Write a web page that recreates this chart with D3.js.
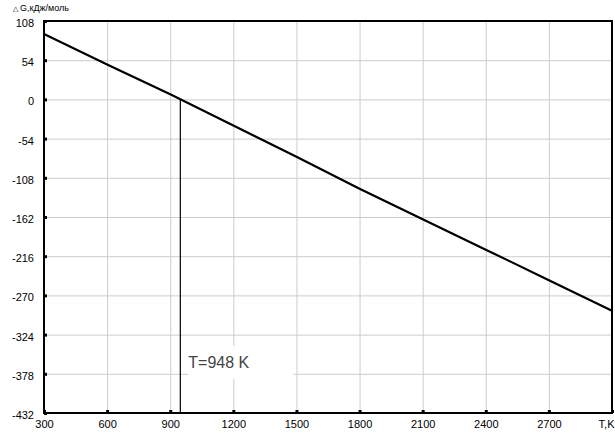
<!DOCTYPE html>
<html>
<head>
<meta charset="utf-8">
<script src="https://cdn.jsdelivr.net/npm/d3@7"></script>
<style>
  body { margin: 0; background: #fff; }
  svg { display: block; font-family: "Liberation Sans", Arial, sans-serif; }
  .grid line { stroke: #cccccc; stroke-width: 1px; }
  .grid path { display: none; }
  .axis path { display: none; }
  .axis line { stroke: #000; stroke-width: 3px; }
  .axis text { font-size: 11px; fill: #000; }
</style>
</head>
<body>
<div id="chart"></div>
<script>
// data
var temps = [300, 600, 900, 1200, 1500, 1800, 2100, 2400, 2700, 3000];
var dG = [90, 48, 7, -36, -79, -123, -165, -207, -249, -291];
var yTicks = [108, 54, 0, -54, -108, -162, -216, -270, -324, -378, -432];
var xTicks = [300, 600, 900, 1200, 1500, 1800, 2100, 2400, 2700, 3000];
var xLabels = ["300", "600", "900", "1200", "1500", "1800", "2100", "2400", "2700", "T,K"];
var tEq = 948;
var yTitle = "G,кДж/моль";

var margin = {top: 21, right: 3, bottom: 21, left: 44},
    width = 615 - margin.left - margin.right,
    height = 434 - margin.top - margin.bottom;

var x = d3.scaleLinear().domain([300, 3000]).range([0, width]),
    y = d3.scaleLinear().domain([-432, 108]).range([height, 0]);

var svg = d3.select("#chart").append("svg")
    .attr("width", 615)
    .attr("height", 434);

var g = svg.append("g")
    .attr("transform", "translate(" + margin.left + "," + margin.top + ")");

// grid
g.append("g")
    .attr("class", "grid")
    .call(d3.axisLeft(y).tickValues(yTicks).tickSize(-width).tickFormat(""));
g.append("g")
    .attr("class", "grid")
    .attr("transform", "translate(0," + height + ")")
    .call(d3.axisBottom(x).tickValues(xTicks).tickSize(-height).tickFormat(""));

// white box behind the T label (hides grid)
var lx = x(tEq) + 8;
g.append("rect")
    .attr("x", lx)
    .attr("y", y(-378) - 28)
    .attr("width", 105)
    .attr("height", 33)
    .attr("fill", "#fff");

// the curve
var line = d3.line()
    .x(function(d, i) { return x(temps[i]); })
    .y(function(d) { return y(d); });

g.append("path")
    .datum(dG)
    .attr("fill", "none")
    .attr("stroke", "#000")
    .attr("stroke-width", 2.2)
    .attr("d", line);

// vertical marker at equilibrium temperature
g.append("line")
    .attr("x1", x(tEq)).attr("x2", x(tEq))
    .attr("y1", y(0)).attr("y2", height)
    .attr("stroke", "#000")
    .attr("stroke-width", 1.2);

g.append("text")
    .attr("x", lx)
    .attr("y", y(-378) - 6)
    .attr("fill", "#444")
    .style("font-size", "16px")
    .text("T=" + tEq + " K");

// axes
var yAxis = g.append("g")
    .attr("class", "axis")
    .call(d3.axisLeft(y).tickValues(yTicks).tickSizeInner(-3).tickSizeOuter(0).tickPadding(10)
      .tickFormat(function(d) { return String(d); }));
yAxis.selectAll("text").attr("dy", "0.5em");

var xAxis = g.append("g")
    .attr("class", "axis")
    .attr("transform", "translate(0," + height + ")")
    .call(d3.axisBottom(x).tickValues(xTicks).tickSizeInner(-3).tickSizeOuter(0).tickPadding(7)
      .tickFormat(function(d, i) { return xLabels[i]; }));
xAxis.selectAll("text")
    .filter(function(d) { return d === 3000; })
    .attr("text-anchor", "end")
    .attr("dx", 2);

// frame
g.append("rect")
    .attr("width", width)
    .attr("height", height)
    .attr("fill", "none")
    .attr("stroke", "#000")
    .attr("stroke-width", 2);

// y title
var title = svg.append("text")
    .attr("x", 13)
    .attr("y", 11)
    .style("font-size", "9px")
    .attr("fill", "#000");
title.append("tspan").style("font-size", "7px").text("△ ");
title.append("tspan").text(yTitle);
</script>
</body>
</html>
